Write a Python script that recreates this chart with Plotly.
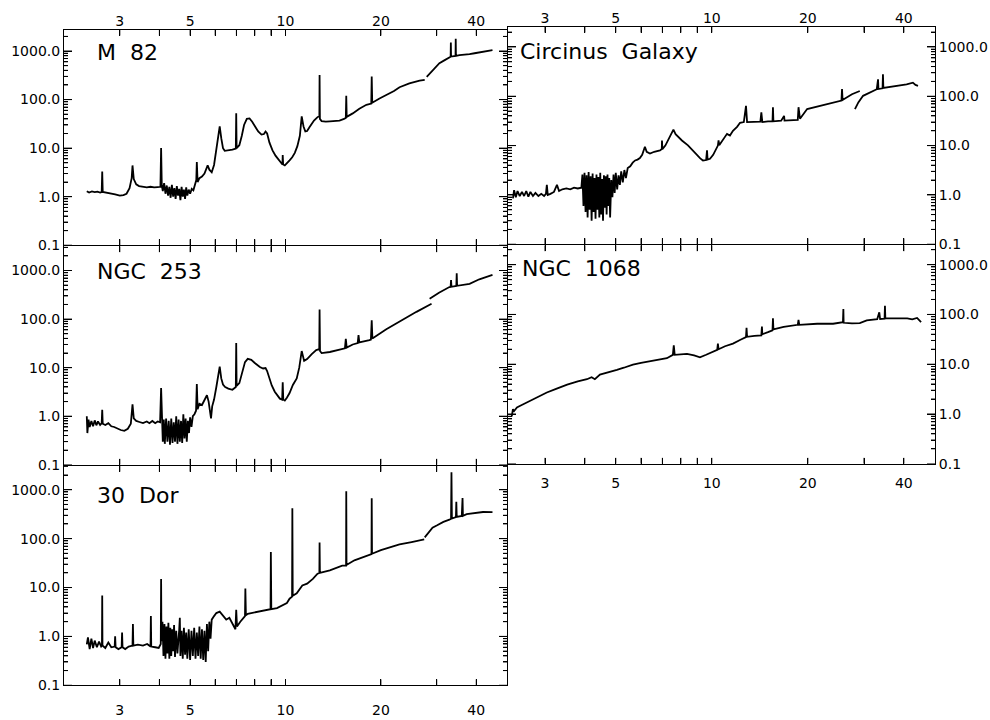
import plotly.graph_objects as go

# ---------------- data (wavelength in micron, flux) ----------------
m82 = [(2.36,1.3),(2.40,1.22),(2.45,1.28),(2.50,1.24),(2.55,1.27),(2.60,1.22),(2.63,1.25),(2.64,3.3),(2.65,1.25),
       (2.72,1.22),(2.80,1.18),(2.90,1.12),(3.00,1.05),(3.08,1.08),(3.15,1.15),(3.22,1.5),(3.27,2.4),(3.29,4.4),
       (3.32,2.3),(3.38,1.8),(3.45,1.65),(3.55,1.58),(3.65,1.55),(3.75,1.6),(3.85,1.55),(3.95,1.58),(4.03,1.6),
       (4.05,10.0),(4.07,1.7),(4.10,1.3),(4.14,1.9),(4.18,1.15),(4.22,1.7),(4.26,1.05),(4.30,1.6),(4.34,0.95),
       (4.38,1.75),(4.42,1.0),(4.46,1.5),(4.50,0.9),(4.54,1.65),(4.58,1.05),(4.62,1.45),(4.66,0.85),(4.70,1.6),
       (4.74,1.0),(4.78,1.4),(4.82,0.9),(4.86,1.55),(4.90,1.05),(4.95,1.4),(5.00,1.15),(5.06,1.45),(5.12,1.35),
       (5.18,1.8),(5.23,2.2),(5.25,5.2),(5.28,2.0),(5.35,2.4),(5.45,2.6),(5.55,3.0),(5.62,3.8),(5.68,4.4),
       (5.75,3.6),(5.85,3.2),(5.95,4.5),(6.05,9),(6.12,16),(6.20,28),(6.27,16),(6.35,10),(6.43,8.8),(6.6,8.9),
       (6.8,9.3),(6.97,9.8),(6.99,52),(7.01,10),(7.15,11.5),(7.28,18),(7.40,30),(7.55,40),(7.70,41),(7.85,35),
       (8.0,29),(8.2,22),(8.4,19),(8.55,19.5),(8.65,22),(8.75,20),(8.9,13),(9.1,9),(9.3,7),(9.5,5.8),(9.7,4.9),
       (9.78,4.6),(9.80,7.2),(9.83,4.6),(9.95,4.4),(10.1,4.8),(10.3,5.6),(10.5,6.5),(10.7,8),(10.9,11),(11.1,18),
       (11.25,45),(11.4,28),(11.55,22),(11.7,22.5),(11.9,27),(12.1,32),(12.3,37),(12.6,43),(12.79,46),(12.81,320),
       (12.84,40),(13.0,36),(13.4,35),(13.8,35.5),(14.3,36),(14.8,37),(15.3,40),(15.5,42),(15.55,120),(15.6,44),
       (16.3,52),(17.1,65),(18.0,78),(18.65,83),(18.71,300),(18.78,86),(19.8,105),(20.8,122),(22.0,150),
       (22.9,180),(24.6,215),(26.5,245),(27.5,255),None,(27.9,295),(28.5,340),(29.5,425),(30.6,560),(31.8,650),
       (32.9,760),(33.2,765),(33.25,1500),(33.3,770),(34.4,790),(34.45,1800),(34.5,795),(35.4,820),(36.7,830),
       (38.1,860),(39.5,900),(40.9,930),(42.5,970),(44.0,1000),(45.0,1040)]

circinus = [(2.38,0.85),(2.40,1.25),(2.43,0.9),(2.46,1.2),(2.50,0.95),(2.54,1.15),(2.58,0.95),(2.62,1.2),
            (2.66,0.92),(2.70,1.15),(2.75,0.95),(2.80,1.1),(2.86,0.95),(2.92,1.05),(2.98,0.95),(3.02,1.05),
            (3.04,1.6),(3.06,1.0),(3.12,1.05),(3.20,1.15),(3.27,1.6),(3.32,1.2),(3.40,1.3),(3.50,1.35),(3.60,1.3),
            (3.70,1.4),(3.80,1.35),(3.90,1.4),(3.93,2.6),(3.96,0.6),(3.99,2.8),(4.02,0.45),(4.05,2.5),(4.08,0.35),
            (4.11,2.9),(4.14,0.5),(4.17,2.4),(4.20,0.3),(4.23,2.7),(4.26,0.45),(4.29,2.2),(4.32,0.33),(4.35,2.6),
            (4.38,0.5),(4.41,2.3),(4.44,0.35),(4.47,2.8),(4.50,0.4),(4.53,2.1),(4.56,0.3),(4.59,2.5),(4.62,0.55),
            (4.65,2.4),(4.68,0.4),(4.71,2.6),(4.74,0.6),(4.77,2.2),(4.80,0.35),(4.84,2.0),(4.88,0.9),(4.92,2.6),
            (4.96,1.1),(5.00,2.8),(5.05,1.3),(5.10,2.5),(5.15,1.6),(5.20,3.0),(5.26,1.8),(5.32,3.2),(5.38,2.2),
            (5.45,3.5),(5.55,3.8),(5.65,4.5),(5.75,5.0),(5.85,5.2),(5.95,5.6),(6.05,6.5),(6.17,9.5),(6.25,7.5),
            (6.40,6.9),(6.6,7.5),(6.88,8.0),(6.97,8.5),(6.98,12.7),(7.0,8.5),(7.15,10),(7.35,14),(7.55,20),
            (7.58,21),(7.7,17),(8.06,12.7),(8.42,10.1),(8.7,8),(8.99,6.3),(9.2,5.5),(9.38,5.0),(9.6,5.1),(9.66,8.0),
            (9.7,5.2),(9.87,5.4),(10.1,6.5),(10.45,10),(10.5,12.7),(10.55,10.2),(10.8,13),(11.16,17.3),(11.4,16),
            (11.65,20),(12.0,24),(12.26,29),(12.6,30),(12.8,64),(12.9,30),(13.5,30),(14.2,30.5),(14.3,47),(14.4,30),
            (15.0,31),(15.5,31),(15.55,60),(15.6,31),(16.5,32),(16.85,40),(16.9,32),(18.0,33),(18.6,33),(18.7,60),
            (18.9,35),(19.9,55),(22.0,65),(24.0,75),(25.5,82),(25.6,140),(25.7,84),(27.5,110),(29.1,128),None,
            (28.1,55),(28.8,75),(29.8,102),(31.5,120),(32.9,139),(33.2,220),(33.3,140),(34.3,145),(34.4,278),
            (34.5,147),(36.5,155),(38.9,162),(40.8,175),(42.7,189),(43.5,170),(44.3,163)]

ngc253 = [(2.36,1.0),(2.37,0.45),(2.39,0.85),(2.41,0.6),(2.44,0.8),(2.47,0.62),(2.50,0.82),(2.53,0.65),
          (2.56,0.78),(2.60,0.66),(2.63,0.72),(2.64,1.35),(2.65,0.7),(2.70,0.66),(2.76,0.72),(2.82,0.62),
          (2.88,0.6),(2.95,0.55),(3.02,0.52),(3.10,0.5),(3.18,0.55),(3.25,0.7),(3.29,1.75),(3.32,0.9),(3.38,0.8),
          (3.46,0.76),(3.55,0.72),(3.65,0.78),(3.72,0.72),(3.80,0.8),(3.88,0.72),(3.95,0.78),(4.02,0.75),
          (4.05,3.8),(4.07,0.8),(4.10,0.3),(4.13,0.85),(4.16,0.27),(4.20,0.9),(4.24,0.3),(4.28,0.8),(4.32,0.26),
          (4.36,0.9),(4.40,0.28),(4.44,0.75),(4.48,0.3),(4.52,1.0),(4.56,0.27),(4.60,0.85),(4.64,0.3),(4.68,0.8),
          (4.72,0.28),(4.76,1.1),(4.80,0.35),(4.84,0.9),(4.88,0.3),(4.92,0.8),(4.96,0.45),(5.00,0.95),(5.05,0.6),
          (5.10,1.0),(5.16,1.1),(5.22,1.3),(5.25,4.6),(5.28,1.4),(5.35,1.8),(5.45,1.7),(5.55,2.2),(5.65,2.7),
          (5.72,2.0),(5.77,1.3),(5.82,0.9),(5.87,1.6),(5.95,2.2),(6.05,4.0),(6.13,7),(6.20,10.5),(6.27,6),
          (6.35,4.5),(6.45,4.0),(6.6,3.7),(6.8,3.5),(6.97,4.0),(6.99,32),(7.01,4.2),(7.15,4.8),(7.3,8),(7.45,13),
          (7.6,15.2),(7.8,14.5),(8.0,12.5),(8.3,10.3),(8.5,9.6),(8.65,9.8),(8.75,8.5),(8.92,5.5),(9.05,4.3),
          (9.25,3.2),(9.4,2.7),(9.6,2.3),(9.76,2.2),(9.80,5.0),(9.84,2.2),(9.95,2.1),(10.1,2.4),(10.3,3.0),
          (10.55,4.4),(10.85,6.0),(11.05,10),(11.25,22),(11.45,13.8),(11.7,15),(12.1,19),(12.5,23),(12.78,24),
          (12.81,157),(12.85,22),(13.0,20),(13.8,21),(14.6,23),(15.4,25),(15.5,39),(15.6,26),(16.3,30),(16.9,32),
          (17.0,47),(17.1,33),(18.4,37),(18.6,38),(18.71,94),(18.8,40),(20.8,62),(23.4,98),(25.9,141),(28.9,207),
          None,(28.5,262),(30.5,350),(32.9,457),(33.2,460),(33.3,636),(33.4,462),(34.6,480),(34.7,880),
          (34.8,485),(38.1,530),(40.9,660),(45.0,810)]

ngc1068 = [(2.36,0.9),(2.38,1.25),(2.40,1.15),(2.45,1.35),(2.50,1.45),(2.60,1.65),(2.75,1.97),(2.9,2.3),
           (3.04,2.7),(3.25,3.2),(3.52,3.9),(3.8,4.5),(4.06,5.0),(4.2,5.5),(4.3,5.0),(4.46,6.2),(4.7,6.9),
           (5.04,7.7),(5.3,8.5),(5.66,9.8),(6.0,10.6),(6.4,11.3),(6.8,12.3),(7.23,13.2),(7.55,15.4),(7.6,24),
           (7.65,15.4),(8.0,16),(8.36,16.2),(8.8,15),(9.18,13.8),(9.6,15.5),(10.08,17.8),(10.4,19.5),(10.45,26),
           (10.5,20),(11.0,23),(11.65,26),(12.3,31),(12.8,35),(12.85,54),(12.9,35.5),(13.6,37),(14.3,38),
           (14.36,57),(14.4,40),(15.0,44),(15.5,48),(15.55,84),(15.6,50),(16.8,56),(17.97,60),(18.6,62),(18.7,78),
           (18.8,62),(21.4,65),(24.0,65),(25.77,70),(25.85,128),(25.9,68),(27.5,66),(29.1,67),(30.6,76),(33.0,80),
           (33.5,110),(33.7,81),(34.8,82),(34.9,150),(35.0,84),(37.0,84),(38.9,85),(41.0,83),(42.5,80),(44.0,85),
           (45.3,70)]

dor30 = [(2.36,0.69),(2.38,0.95),(2.41,0.55),(2.44,0.9),(2.47,0.58),(2.50,0.82),(2.54,0.6),(2.58,0.78),
         (2.62,0.62),(2.635,0.65),(2.64,6.9),(2.645,0.65),(2.70,0.58),(2.76,0.75),(2.82,0.6),(2.89,0.62),
         (2.90,1.0),(2.91,0.6),(2.97,0.55),(3.04,0.6),(3.05,1.2),(3.06,0.6),(3.12,0.55),(3.2,0.62),(3.29,0.65),
         (3.30,1.8),(3.31,0.65),(3.42,0.68),(3.55,0.65),(3.66,0.7),(3.75,0.62),(3.76,2.6),(3.77,0.62),(3.88,0.6),
         (3.98,0.58),(4.04,0.7),(4.05,15),(4.06,0.8),(4.09,2.0),(4.12,0.4),(4.15,1.8),(4.18,0.35),(4.21,1.6),
         (4.24,0.45),(4.27,1.9),(4.30,0.35),(4.33,1.5),(4.36,0.4),(4.39,1.4),(4.42,0.5),(4.45,1.7),(4.48,0.38),
         (4.52,1.3),(4.56,0.45),(4.62,1.4),(4.64,2.4),(4.66,0.4),(4.70,1.3),(4.74,0.35),(4.78,1.5),(4.82,0.42),
         (4.86,1.2),(4.90,0.35),(4.95,1.4),(5.00,0.33),(5.05,1.3),(5.10,0.4),(5.15,1.5),(5.20,0.35),(5.25,1.2),
         (5.30,0.4),(5.35,1.6),(5.40,0.35),(5.45,1.4),(5.50,0.33),(5.55,1.3),(5.60,0.3),(5.65,1.8),(5.70,0.5),
         (5.75,2.0),(5.80,0.9),(5.85,2.2),(5.95,2.6),(6.05,3.0),(6.2,3.2),(6.35,2.6),(6.5,2.2),(6.65,2.4),
         (6.8,1.8),(6.95,1.4),(6.99,3.5),(7.03,1.6),(7.2,2.0),(7.35,2.4),(7.45,2.6),(7.47,9.5),(7.50,2.7),
         (7.6,2.9),(8.0,3.1),(8.4,3.3),(8.75,3.6),(8.97,3.6),(8.99,53),(9.02,3.6),(9.4,3.8),(9.7,4.2),(10.1,4.8),
         (10.3,5.9),(10.49,6.5),(10.51,420),(10.54,6.8),(10.85,7.6),(11.3,11),(11.7,12),(12.2,15),(12.6,19),
         (12.79,20),(12.81,83),(12.84,20),(13.8,22.5),(14.5,25),(15.1,28),(15.53,28),(15.55,930),(15.58,29),
         (16.5,36),(18.0,45),(18.68,48),(18.71,670),(18.75,49),(20.0,58),(22.9,76),(25.0,85),(27.0,92),
         (27.4,96),None,(27.5,106),(28.3,135),(29.1,167),(30.0,185),(31.5,220),(32.9,244),(33.3,255),
         (33.4,2280),(33.5,258),(34.5,275),(34.6,570),(34.7,277),(36.0,290),(36.2,675),(36.3,292),(37.3,316),
         (40.0,335),(42.0,350),(45.0,347)]

panel_names = ["M\u00a0\u00a082", "Circinus\u00a0\u00a0Galaxy", "NGC\u00a0\u00a0253", "NGC\u00a0\u00a01068",
               "30\u00a0\u00a0Dor"]
panel_data = [m82, circinus, ngc253, ngc1068, dor30]

x_label_vals = [3, 5, 10, 20, 40]
x_label_text = ["3", "5", "10", "20", "40"]
x_tick_vals = [3, 4, 5, 6, 7, 8, 9, 10, 20, 30, 40]
y_major_vals = [0.1, 1, 10, 100, 1000]
y_minor_vals = [m * 10.0 ** e for e in range(-1, 4) for m in range(2, 10)]

# ---------------- layout geometry (pixels) ----------------
W, H = 990, 720
frames = [
    dict(box=(64, 507, 30, 248), xr=[0.3010, 1.6990], yr=[-1.0, 3.44], xside="top", xshow=True, yside="left", title=(95, 53), stand=0),
    dict(box=(508, 935, 27, 247), xr=[0.3611, 1.6997], yr=[-1.0, 3.41], xside="top", xshow=True, yside="right", title=(518, 52), stand=0),
    dict(box=(64, 507, 249, 470), xr=[0.3010, 1.6990], yr=[-1.0, 3.50], xside="bottom", xshow=False, yside="left", title=(95, 275), stand=0),
    dict(box=(508, 935, 248, 469), xr=[0.3611, 1.6997], yr=[-1.0, 3.39], xside="bottom", xshow=True, yside="right", title=(520, 272), stand=9),
    dict(box=(64, 507, 471, 693), xr=[0.3010, 1.6990], yr=[-1.0, 3.49], xside="bottom", xshow=True, yside="left", title=(95, 501), stand=15),
]
OPP = {"top": "bottom", "bottom": "top", "left": "right", "right": "left"}
X_TICK_LEN, Y_MAJOR_LEN, Y_MINOR_LEN = 6, 8, 4

fig = go.Figure()
tick_font = dict(family="DejaVu Sans", size=14, color="black")
layout = dict(width=W, height=H, margin=dict(l=0, r=0, t=0, b=0), paper_bgcolor="white",
              plot_bgcolor="white", showlegend=False)
annotations = []
shapes = []
next_id = [len(frames) + 1]


def new_id():
    k = str(next_id[0])
    next_id[0] += 1
    return k


def ghost(xs, ys, xa, ya):
    fig.add_trace(go.Scatter(x=xs, y=ys, mode="lines", xaxis=xa, yaxis=ya,
                             line=dict(color="rgba(0,0,0,0)", width=0), hoverinfo="skip"))


def frame_x(fr, side, **extra):
    d = dict(type="log", range=fr["xr"], side=side, showticklabels=False, dtick="D1",
             ticks="inside", ticklen=X_TICK_LEN, tickwidth=1, tickcolor="black",
             showline=True, linecolor="black", linewidth=1, showgrid=False, zeroline=False)
    d.update(extra)
    return d


def frame_y(fr, side, labels, **extra):
    d = dict(type="log", range=fr["yr"], side=side, dtick=1, tickformat=".1f", showticklabels=labels,
             ticks="inside", ticklen=Y_MAJOR_LEN, tickwidth=1, tickcolor="black",
             minor=dict(dtick="D1", ticks="inside", ticklen=Y_MINOR_LEN, tickwidth=1, tickcolor="black",
                        showgrid=False),
             showline=True, linecolor="black", linewidth=1, showgrid=False, zeroline=False,
             tickfont=tick_font)
    d.update(extra)
    return d


def tick_line(**kw):
    d = dict(type="line", line=dict(color="black", width=1), layer="above")
    d.update(kw)
    return d


for i, (fr, data, name) in enumerate(zip(frames, panel_data, panel_names)):
    n = "" if i == 0 else str(i + 1)
    xs = [p[0] if p is not None else None for p in data]
    ys = [p[1] if p is not None else None for p in data]
    fig.add_trace(go.Scatter(x=xs, y=ys, mode="lines", xaxis="x" + n, yaxis="y" + n,
                             line=dict(color="black", width=1.8), connectgaps=False, hoverinfo="skip"))
    l, r, t, b = fr["box"]
    layout["xaxis" + n] = frame_x(fr, fr["xside"], domain=[l / W, r / W], anchor="y" + n)
    layout["yaxis" + n] = frame_y(fr, fr["yside"], True, domain=[1 - b / H, 1 - t / H], anchor="x" + n)
    # opposite-side frame lines
    k = new_id()
    layout["xaxis" + k] = frame_x(fr, OPP[fr["xside"]], overlaying="x" + n, anchor="y" + n)
    ghost(xs, ys, "x" + k, "y" + n)
    k = new_id()
    layout["yaxis" + k] = frame_y(fr, OPP[fr["yside"]], False, overlaying="y" + n, anchor="x" + n)
    ghost(xs, ys, "x" + n, "y" + k)
    # wavelength labels
    if fr["xshow"]:
        k = new_id()
        layout["xaxis" + k] = dict(
            type="log", overlaying="x" + n, anchor="y" + n, range=fr["xr"], side=fr["xside"],
            tickmode="array", tickvals=x_label_vals, ticktext=x_label_text, ticks="",
            showline=False, showgrid=False, zeroline=False, tickfont=tick_font,
            ticklabelstandoff=fr["stand"])
        ghost(xs, ys, "x" + k, "y" + n)
    # inward tick marks on all four sides, placed in data space of each panel's axes
    xref, yref = "x" + n, "y" + n
    dy = (fr["yr"][1] - fr["yr"][0]) / (b - t)   # log-decades per pixel (vertical)
    dx = (fr["xr"][1] - fr["xr"][0]) / (r - l)   # log-decades per pixel (horizontal)
    ybot, ytop = fr["yr"]
    xlft, xrgt = fr["xr"]
    for v in x_tick_vals:
        shapes.append(tick_line(xref=xref, yref=yref, x0=v, x1=v,
                                y0=10 ** ybot, y1=10 ** (ybot + X_TICK_LEN * dy)))
        shapes.append(tick_line(xref=xref, yref=yref, x0=v, x1=v,
                                y0=10 ** ytop, y1=10 ** (ytop - X_TICK_LEN * dy)))
    lo, hi = 10 ** ybot * 0.999, 10 ** ytop
    for vals, ln in ((y_major_vals, Y_MAJOR_LEN), (y_minor_vals, Y_MINOR_LEN)):
        for v in vals:
            if lo <= v <= hi:
                shapes.append(tick_line(xref=xref, yref=yref, y0=v, y1=v,
                                        x0=10 ** xlft, x1=10 ** (xlft + ln * dx)))
                shapes.append(tick_line(xref=xref, yref=yref, y0=v, y1=v,
                                        x0=10 ** xrgt, x1=10 ** (xrgt - ln * dx)))
    tx, ty = fr["title"]
    annotations.append(dict(text=name, x=tx / W, y=1 - ty / H, xref="paper", yref="paper",
                            xanchor="left", yanchor="middle", showarrow=False,
                            font=dict(family="DejaVu Sans", size=22, color="black")))

layout["annotations"] = annotations
layout["shapes"] = shapes
fig.update_layout(**layout)
fig.write_html("out.html")
